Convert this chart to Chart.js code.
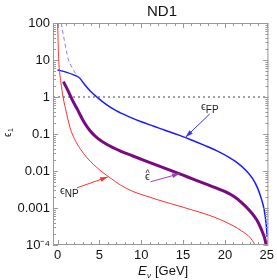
<!DOCTYPE html>
<html>
<head>
<meta charset="utf-8">
<script src="https://cdn.jsdelivr.net/npm/chart.js@4.4.1/dist/chart.umd.min.js"></script>
<style>
  html, body { margin: 0; padding: 0; background: #fff; }
  #wrap { width: 277px; height: 280px; }
</style>
</head>
<body>
<div id="wrap"><canvas id="chart" width="277" height="280"></canvas></div>
<script>
// eps_FP (blue)
const eFP = [0, 1, 2, 2.6, 3.2, 3.9, 4.7, 5.8, 7, 8.5, 10, 11.5, 13, 14.5, 16, 17.5, 19, 20.5, 21.5, 22.5, 23.3, 23.9, 24.4, 24.7, 24.9, 25.0, 25.05]
const epsFP = [5.4, 4.7, 3.9, 3.3, 2.2, 1.45, 1.0, 0.63, 0.427, 0.295, 0.214, 0.162, 0.123, 0.093, 0.069, 0.05, 0.0355, 0.0234, 0.0166, 0.0105, 0.0063, 0.0035, 0.00166, 0.00089, 0.00043, 0.00025, 0.000166]
// dashed continuation of eps_FP at low energy
const eFPdash = [0.45, 0.6, 0.8, 1.0, 1.3, 1.7, 2.1, 2.6]
const epsFPdash = [100, 60, 35, 20, 10, 6.5, 4.5, 3.3]
// eps_NP (red)
const eNP = [0, 0.05, 0.12, 0.25, 0.4, 0.65, 0.93, 1.5, 2, 2.7, 3.5, 4.3, 5.3, 6.3, 7.5, 9, 10.5, 12, 13.5, 15, 16.5, 18, 19.5, 21, 22, 23, 23.6, 23.8]
const epsNP = [100, 40, 11, 4.5, 2.4, 1.0, 0.5, 0.145, 0.075, 0.04, 0.023, 0.015, 0.0095, 0.0065, 0.0042, 0.0028, 0.00214, 0.00166, 0.00132, 0.00105, 0.00083, 0.00065, 0.00048, 0.00033, 0.00024, 0.00016, 0.0001, 0.00008]
// eps hat (purple)
const eHat = [0.7, 1.0, 1.3, 1.8, 2.4, 3.1, 3.9, 4.8, 5.9, 7.5, 9, 10.5, 12, 13.5, 15, 16.5, 18, 19.5, 21, 22, 23, 23.5, 24, 24.5, 24.8, 25.0]
const epsHat = [2.6, 1.9, 1.4, 0.8, 0.45, 0.22, 0.12, 0.076, 0.052, 0.0347, 0.0254, 0.0188, 0.014, 0.0104, 0.0077, 0.0057, 0.0042, 0.0031, 0.0021, 0.0014, 0.00083, 0.0006, 0.0004, 0.00022, 0.00014, 0.00008]

const xTicks = [0, 5, 10, 15, 20, 25]
const yTicks = [1e-4, 1e-3, 0.01, 0.1, 1, 10, 100]
const yTickLabels = ['10\u207B\u2074', '0.001', '0.01', '0.1', '1', '10', '100']
const refLine = 1

const xMin = -0.55
const xMax = 25.2
const FONT = '"Liberation Sans", Arial, sans-serif'

const pts = (xs, ys) => xs.map((x, i) => ({ x: x, y: ys[i] }))

// frame, inward ticks, title, axis titles and arrows
const decor = {
  id: 'decor',
  afterDraw (chart) {
    const ctx = chart.ctx
    const a = chart.chartArea
    const xs = chart.scales.x
    const ys = chart.scales.y
    ctx.save()
    ctx.strokeStyle = '#999'
    ctx.lineWidth = 1
    ctx.strokeRect(a.left + 0.5, a.top + 0.5, a.right - a.left - 1, a.bottom - a.top - 1)

    ctx.beginPath()
    for (let v = 0; v <= 25; v++) {
      const px = Math.round(xs.getPixelForValue(v)) + 0.5
      const len = v % 5 === 0 ? 5 : 3
      ctx.moveTo(px, a.bottom); ctx.lineTo(px, a.bottom - len)
      ctx.moveTo(px, a.top); ctx.lineTo(px, a.top + len)
    }
    for (let d = -4; d <= 1; d++) {
      for (let m = 1; m <= 10; m++) {
        const v = m * Math.pow(10, d)
        const py = Math.round(ys.getPixelForValue(v)) + 0.5
        const len = (m === 1 || m === 10) ? 5 : 3
        ctx.moveTo(a.left, py); ctx.lineTo(a.left + len, py)
        ctx.moveTo(a.right, py); ctx.lineTo(a.right - len, py)
      }
    }
    ctx.stroke()

    // title
    ctx.fillStyle = '#111'
    ctx.font = '15px ' + FONT
    ctx.textAlign = 'center'
    ctx.textBaseline = 'alphabetic'
    ctx.fillText('ND1', 162, 16)

    // x title: E_nu [GeV]
    ctx.textAlign = 'left'
    ctx.font = 'italic 13px ' + FONT
    ctx.fillText('E', 138, 275)
    ctx.font = 'italic 8px ' + FONT
    ctx.fillText('\u03BD', 147, 278)
    ctx.font = '13px ' + FONT
    ctx.fillText('[GeV]', 155, 275)

    // y title: eps_1 (rotated)
    ctx.save()
    ctx.translate(11, 137)
    ctx.rotate(-Math.PI / 2)
    ctx.font = '10px ' + FONT
    ctx.fillText('\u03F5', 0, 0)
    ctx.font = '7px ' + FONT
    ctx.fillText('1', 5, 2)
    ctx.restore()

    const arrow = (x1, y1, x2, y2, color) => {
      const p1 = [xs.getPixelForValue(x1), ys.getPixelForValue(y1)]
      const p2 = [xs.getPixelForValue(x2), ys.getPixelForValue(y2)]
      const ang = Math.atan2(p2[1] - p1[1], p2[0] - p1[0])
      ctx.strokeStyle = color
      ctx.fillStyle = color
      ctx.lineWidth = 1
      ctx.beginPath()
      ctx.moveTo(p1[0], p1[1]); ctx.lineTo(p2[0], p2[1])
      ctx.stroke()
      ctx.beginPath()
      ctx.moveTo(p2[0], p2[1])
      ctx.lineTo(p2[0] - 8 * Math.cos(ang - 0.3), p2[1] - 8 * Math.sin(ang - 0.3))
      ctx.lineTo(p2[0] - 8 * Math.cos(ang + 0.3), p2[1] - 8 * Math.sin(ang + 0.3))
      ctx.closePath()
      ctx.fill()
    }
    arrow(18.2, 0.35, 15.3, 0.082, '#3333ff')
    arrow(11.1, 0.0051, 14.6, 0.0085, '#a040b0')
    arrow(2.3, 0.0035, 6.0, 0.0069, '#ff3030')

    const label = (main, sub, x, y) => {
      ctx.fillStyle = '#222'
      ctx.textAlign = 'left'
      ctx.font = '11px ' + FONT
      ctx.fillText(main, x, y)
      const w = ctx.measureText(main).width
      if (sub) {
        ctx.font = '10px ' + FONT
        ctx.fillText(sub, x + w, y + 3)
      }
    }
    label('\u03F5', 'FP', 201, 110)
    label('\u03F5', 'NP', 60, 194)
    // eps hat: epsilon with a caret over it
    label('\u03F5', '', 145, 180)
    ctx.font = '9px ' + FONT
    ctx.fillText('^', 145.5, 176)
    ctx.restore()
  }
}

new Chart(document.getElementById('chart'), {
  type: 'line',
  data: {
    datasets: [
      { data: pts([xMin, xMax], [refLine, refLine]), borderColor: '#444', borderWidth: 1, borderDash: [2, 3], pointRadius: 0 },
      { data: pts(eFPdash, epsFPdash), borderColor: '#8080ff', borderWidth: 1, borderDash: [4, 3], pointRadius: 0, cubicInterpolationMode: 'monotone' },
      { data: pts(eNP, epsNP), borderColor: '#ff3030', borderWidth: 1, pointRadius: 0, cubicInterpolationMode: 'monotone' },
      { data: pts(eHat, epsHat), borderColor: '#7a0a80', borderWidth: 3, pointRadius: 0, cubicInterpolationMode: 'monotone' },
      { data: pts(eFP, epsFP), borderColor: '#1a1aff', borderWidth: 1.5, pointRadius: 0, cubicInterpolationMode: 'monotone' }
    ]
  },
  options: {
    responsive: false,
    animation: false,
    layout: { padding: { left: 0, top: 23, right: 8, bottom: 0 } },
    plugins: { legend: { display: false }, tooltip: { enabled: false }, title: { display: false } },
    scales: {
      x: {
        type: 'linear',
        min: xMin,
        max: xMax,
        grid: { display: false, drawTicks: false },
        border: { display: false },
        afterBuildTicks: (s) => { s.ticks = xTicks.map(v => ({ value: v })) },
        afterFit: (s) => { s.height = 35 },
        ticks: { padding: 3, color: '#111', font: { family: FONT, size: 13 }, maxRotation: 0, autoSkip: false }
      },
      y: {
        type: 'logarithmic',
        min: 1e-4,
        max: 100,
        grid: { display: false, drawTicks: false },
        border: { display: false },
        afterBuildTicks: (s) => { s.ticks = yTicks.map(v => ({ value: v })) },
        afterFit: (s) => { s.width = 53 },
        ticks: {
          padding: 3,
          color: '#111',
          font: { family: FONT, size: 13 },
          autoSkip: false,
          callback: (v) => { const i = yTicks.indexOf(v); return i >= 0 ? yTickLabels[i] : '' }
        }
      }
    }
  },
  plugins: [decor]
})
</script>
</body>
</html>
